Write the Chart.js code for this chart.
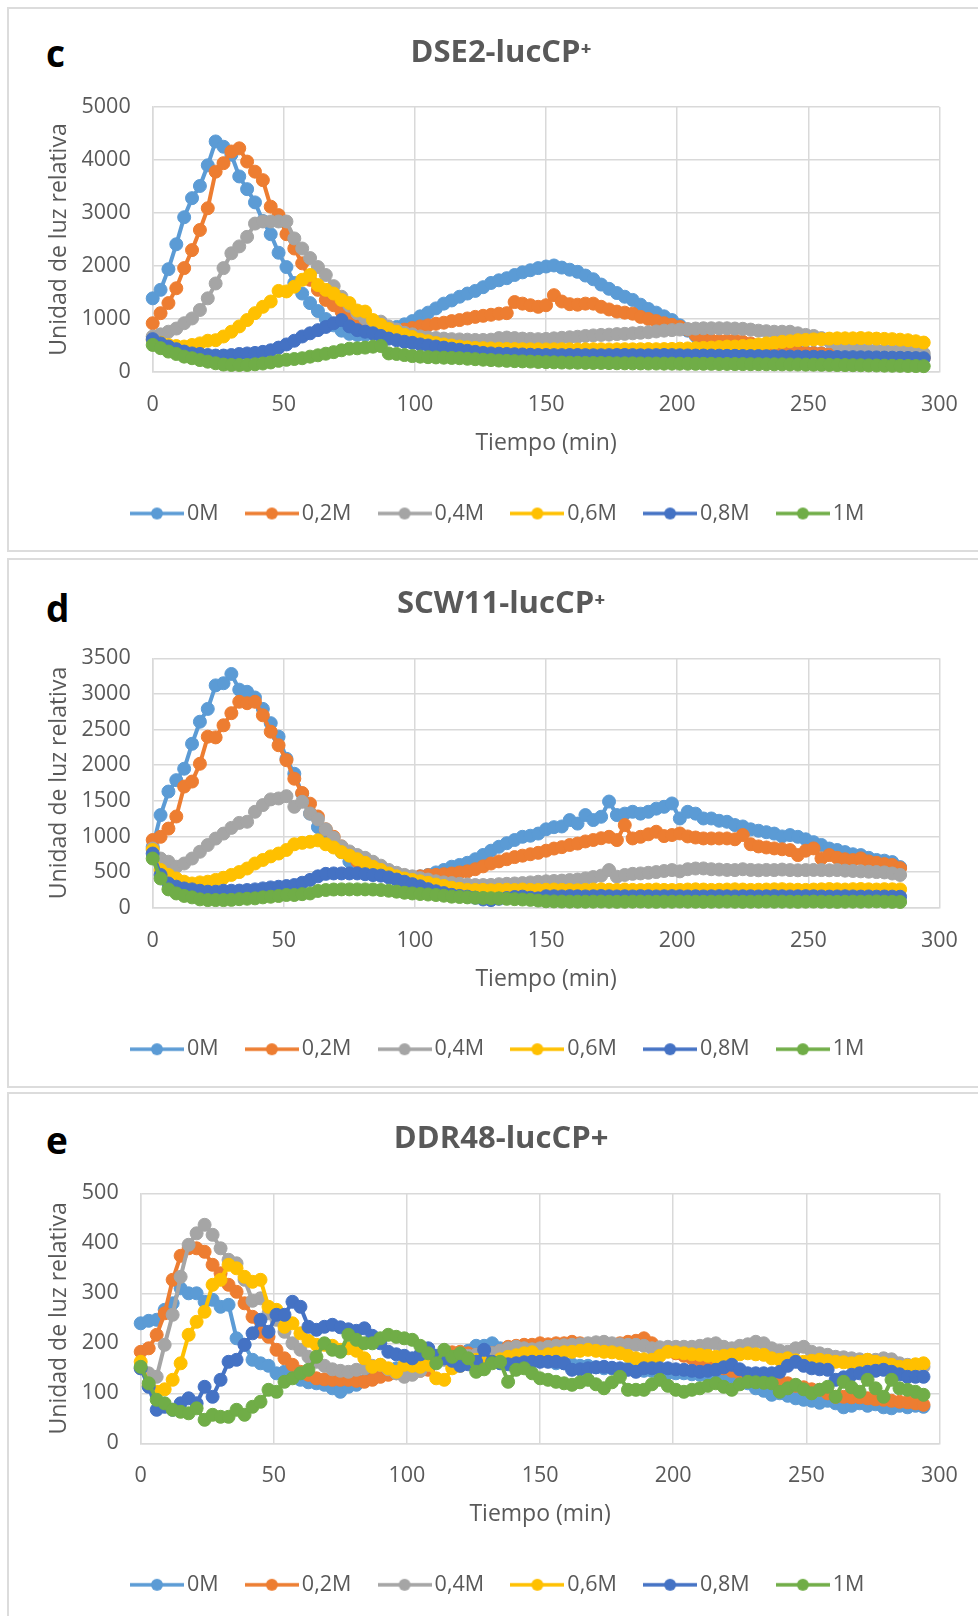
<!DOCTYPE html>
<html><head><meta charset="utf-8">
<script src="https://cdn.jsdelivr.net/npm/chart.js@4.4.1/dist/chart.umd.min.js"></script>
<style>
html,body{margin:0;padding:0;background:#fff;}
body{width:978px;height:1616px;position:relative;overflow:hidden;font-family:'Open Sans',sans-serif;}
.box{position:absolute;left:7px;width:990px;border:2px solid #DCDCDC;box-sizing:border-box;}
canvas{position:absolute;left:0;}
.letter{position:absolute;left:46px;font-family:'Open Sans',sans-serif;font-weight:bold;font-size:37px;line-height:37px;color:#000;}
</style></head><body>
<div class="box" style="top:7px;height:545px"></div>
<div class="box" style="top:558px;height:530px"></div>
<div class="box" style="top:1092px;height:600px"></div>
<div class="letter" style="top:34px">c</div>
<div class="letter" style="top:589px">d</div>
<div class="letter" style="top:1121px">e</div>
<canvas id="cc" width="978" height="543" style="top:8px"></canvas>
<canvas id="cd" width="978" height="529" style="top:559px"></canvas>
<canvas id="ce" width="978" height="523" style="top:1093px"></canvas>
<script>
// ---------- DATA ----------
const times = [0,3,6,9,12,15,18,21,24,27,30,33,36,39,42,45,48,51,54,57,60,63,66,69,72,75,78,81,84,87,90,93,96,99,102,105,108,111,114,117,120,123,126,129,132,135,138,141,144,147,150,153,156,159,162,165,168,171,174,177,180,183,186,189,192,195,198,201,204,207,210,213,216,219,222,225,228,231,234,237,240,243,246,249,252,255,258,261,264,267,270,273,276,279,282,285,288,291,294];
const seriesNames = ["0M","0,2M","0,4M","0,6M","0,8M","1M"];
const xTicks = [0,50,100,150,200,250,300];

// DSE2-lucCP+
const dse2Ticks = [0,1000,2000,3000,4000,5000];
const dse2_0M = [1390,1550,1940,2410,2920,3280,3510,3900,4350,4250,
4100,3690,3450,3200,2850,2600,2250,1980,1680,1480,
1300,1150,1000,880,780,720,700,700,720,760,
800,850,900,960,1050,1120,1200,1290,1350,1420,
1480,1530,1600,1680,1730,1770,1830,1880,1920,1960,
1990,2010,1970,1930,1890,1820,1750,1650,1570,1490,
1420,1360,1270,1190,1120,1050,980,880,780,680,
580,520,490,470,462,450,442,430,421,410,
402,390,382,371,360,352,345,341,334,330,
326,320,316,310,306,302,300,296,290];
const dse2_02M = [920,1110,1300,1580,1960,2300,2680,3090,3780,3940,
4160,4220,3970,3780,3620,3120,2960,2600,2330,2050,
1740,1550,1360,1260,1140,1040,950,900,860,830,
800,790,800,830,860,880,910,930,960,980,
1010,1040,1060,1080,1100,1110,1320,1290,1260,1230,
1260,1450,1330,1280,1270,1290,1290,1230,1180,1140,
1120,1100,1040,1000,960,920,890,850,800,700,
640,600,590,595,600,570,540,500,470,440,
420,400,380,360,355,350,340,330,320,300,
290,286,280,276,272,270,266,262,260];
const dse2_04M = [670,710,760,820,920,1010,1170,1390,1670,1960,
2240,2370,2550,2800,2840,2840,2840,2840,2520,2330,
2150,1980,1830,1620,1420,1250,1110,1010,960,950,
860,800,740,710,670,650,640,630,620,615,
610,605,605,610,640,650,640,630,625,620,
625,635,645,655,665,680,690,700,705,715,
720,730,740,750,765,780,790,800,810,820,
825,825,825,825,820,815,800,780,770,760,
760,760,730,700,680,640,580,520,470,440,
420,415,410,405,400,400,390,370,350];
const dse2_06M = [600,550,510,490,480,510,540,590,600,670,
760,860,980,1110,1230,1330,1530,1520,1610,1740,
1830,1640,1550,1480,1360,1300,1160,1140,980,890,
810,760,700,660,610,580,545,520,500,480,
465,455,450,445,440,435,432,430,428,428,
426,428,430,428,425,428,430,428,426,428,
430,428,430,432,430,432,435,440,445,450,
455,460,470,480,480,490,500,520,540,550,
570,580,600,605,615,620,630,635,635,635,
640,635,630,625,620,610,600,580,555];
const dse2_08M = [620,540,480,430,385,350,340,320,310,310,
320,340,350,360,380,410,460,520,590,670,
730,790,850,920,980,860,790,760,730,680,
630,600,570,550,520,500,480,460,440,420,
400,380,360,350,345,340,335,330,325,320,
320,318,318,320,320,318,315,315,318,320,
320,318,315,315,318,320,318,315,312,310,
310,310,308,305,305,302,300,300,298,295,
295,292,290,290,288,285,285,282,280,280,
278,276,275,272,270,268,265,262,260];
const dse2_1M = [510,450,385,340,290,260,225,195,165,140,
132,132,132,145,160,180,210,230,245,260,
290,315,345,375,410,440,447,460,478,490,
350,340,320,300,290,280,275,270,265,260,
250,242,232,225,216,210,205,200,196,190,
186,182,178,176,175,172,170,170,168,165,
164,163,162,160,160,158,158,157,156,155,
155,154,151,152,150,149,148,148,146,145,
144,142,141,139,138,135,134,131,130,128,
127,124,123,120,118,117,114,112,110];

// SCW11-lucCP+
const scw11Ticks = [0,500,1000,1500,2000,2500,3000,3500];
const scw11_0M = [855,1300,1630,1790,1950,2300,2610,2790,3120,3150,
3280,3060,3030,2950,2790,2590,2400,2090,1880,1600,
1320,1130,1020,900,780,650,570,520,490,465,
450,435,425,425,440,460,495,530,575,600,
630,680,740,800,855,905,950,995,1010,1040,
1100,1130,1140,1230,1180,1300,1230,1276,1490,1300,
1320,1346,1320,1346,1390,1416,1463,1252,1346,1320,
1252,1252,1220,1206,1160,1140,1100,1080,1060,1040,
1000,1019,995,960,920,880,830,810,780,750,
738,700,670,660,640,570];
const scw11_02M = [950,995,1110,1280,1700,1770,2020,2400,2390,2560,
2730,2890,2870,2890,2700,2470,2280,2070,1810,1610,
1460,1280,1100,995,860,750,650,590,530,500,
480,465,450,430,440,455,460,470,480,495,
510,540,580,620,650,680,710,730,750,770,
800,830,850,880,900,930,950,975,995,949,
1159,972,995,1030,1066,1005,1020,1042,1000,985,
972,972,972,972,960,1019,890,860,845,832,
820,808,738,800,832,692,738,700,680,668,
692,650,630,612,600,555];
const scw11_04M = [830,690,645,575,620,690,785,880,970,1040,
1120,1190,1206,1346,1440,1520,1533,1565,1416,1486,
1322,1240,1100,980,860,790,740,700,645,590,
530,490,460,440,415,395,370,355,345,335,
325,318,318,320,330,335,340,345,355,364,
370,375,380,388,395,410,430,450,528,435,
460,475,481,490,500,515,528,510,540,550,
551,540,535,530,528,540,530,525,530,528,
535,528,525,528,530,528,525,528,520,515,
510,505,500,495,480,460];
const scw11_06M = [810,530,460,410,365,340,355,365,390,420,
460,500,550,620,670,720,760,810,890,910,
925,945,890,845,780,730,680,630,575,530,
480,440,410,390,370,350,325,305,280,265,
250,248,250,245,250,252,248,255,250,248,
252,255,250,248,245,250,255,258,252,250,
255,250,248,252,255,250,248,250,255,258,
255,250,252,255,258,255,250,252,255,258,
260,255,252,250,255,258,262,258,255,260,
262,258,255,260,258,257];
const scw11_08M = [760,460,340,295,270,257,238,224,224,238,
238,240,248,257,271,285,294,304,318,350,
390,440,475,481,481,481,481,470,458,450,
425,395,364,330,300,260,230,205,180,165,
155,140,115,107,125,135,150,155,140,131,
160,160,158,162,160,158,160,163,160,158,
160,158,162,160,158,160,162,160,158,160,
158,160,162,160,158,160,160,158,160,162,
160,158,160,162,160,158,156,158,160,158,
156,158,155,157,155,154];
const scw11_1M = [690,410,257,200,165,145,117,107,107,107,
110,120,126,131,145,154,164,178,178,190,
200,235,248,255,257,257,257,257,255,248,
238,225,210,200,192,185,178,168,155,150,
145,140,137,133,131,125,120,115,110,100,
90,88,86,85,85,84,85,86,84,83,
84,85,86,84,83,85,84,86,85,84,
83,84,85,86,84,83,84,85,86,84,
85,84,83,85,86,84,83,82,84,85,
84,86,88,84,82,80];

// DDR48-lucCP+
const ddr48Ticks = [0,100,200,300,400,500];
const ddr48_0M = [240,245,247,267,280,310,300,300,283,287,
273,277,210,197,167,160,155,140,143,133,
127,122,120,117,110,103,113,117,125,133,
140,145,150,150,155,160,160,165,170,175,
180,185,195,195,200,190,185,180,175,170,
165,165,160,160,158,155,155,152,150,150,
148,150,147,145,145,143,140,140,140,138,
137,135,135,133,133,125,120,110,105,97,
100,95,90,87,85,81,85,80,72,75,
80,75,78,72,70,75,72,75,73];
const ddr48_02M = [183,190,217,260,327,375,390,390,383,357,
340,317,303,280,253,223,213,187,170,157,
143,137,130,128,127,127,127,125,123,127,
133,137,140,142,143,145,147,165,180,182,
183,180,177,178,180,185,193,195,197,197,
200,198,200,200,203,200,198,195,193,195,
200,203,205,210,200,190,185,180,175,170,
165,160,155,150,145,140,135,130,128,127,
125,120,115,112,108,107,100,93,93,92,
92,90,88,87,85,83,82,80,77];
const ddr48_04M = [150,140,133,197,257,333,397,420,437,417,
390,367,360,327,285,290,260,247,223,200,
187,173,163,155,148,145,143,147,150,155,
157,148,140,133,137,145,157,162,167,170,
173,175,177,178,180,185,190,193,190,188,
190,193,195,196,197,198,200,202,203,200,
198,197,197,195,190,192,193,193,193,193,
195,198,200,193,190,195,198,203,200,190,
185,183,190,193,183,180,177,173,172,170,
168,167,167,170,168,160,157,155,153];
const ddr48_06M = [163,115,103,108,127,160,217,243,263,317,
327,357,350,333,323,327,273,267,233,240,
220,205,197,197,195,187,190,185,170,153,
157,150,143,157,155,153,157,130,127,150,
155,160,167,165,163,168,173,176,180,182,
173,178,180,182,183,185,187,185,183,182,
180,175,170,168,167,175,183,182,180,178,
177,175,173,175,177,178,180,178,177,170,
167,170,166,163,165,167,165,163,162,160,
163,167,163,160,157,153,155,158,160];
const ddr48_08M = [150,113,67,73,67,80,90,80,113,93,
127,163,167,197,220,247,223,257,257,283,
273,233,227,233,237,232,228,225,230,215,
200,183,178,175,170,178,190,175,170,165,
155,158,163,187,163,160,158,160,162,163,
163,163,163,160,147,148,150,152,153,151,
150,147,143,150,150,150,150,148,147,145,
143,145,147,152,157,148,140,140,140,140,
143,155,163,155,150,148,147,127,132,137,
140,143,145,147,143,138,133,133,133];
const ddr48_1M = [153,120,87,80,67,63,60,70,47,57,
53,53,67,57,73,83,107,103,123,130,
140,147,173,200,187,183,217,207,200,200,
210,217,213,210,207,195,180,160,187,173,
180,170,143,148,160,163,123,147,150,140,
130,127,123,120,117,122,127,118,110,122,
133,107,107,107,118,127,115,107,103,107,
110,115,120,113,107,118,123,122,121,120,
103,110,117,108,100,107,113,93,123,112,
103,127,110,93,127,110,107,103,97];

// ---------- STYLE ----------
const colors = ["#5B9BD5","#ED7D31","#A5A5A5","#FFC000","#4472C4","#70AD47"];
const gray = "#595959";
const gridColor = "#D9D9D9";
Chart.defaults.font.family = "'Open Sans', sans-serif";

const markers = colors.map(c => {
  const cv = document.createElement('canvas');
  cv.width = 54; cv.height = 16;
  const g = cv.getContext('2d');
  g.strokeStyle = c; g.lineWidth = 3.3;
  g.beginPath(); g.moveTo(0, 8); g.lineTo(54, 8); g.stroke();
  g.fillStyle = c; g.beginPath(); g.arc(27, 8, 6, 0, Math.PI * 2); g.fill();
  return cv;
});

const TITLE_SIZE = 31;
function build(id, titleText, seriesList, yTicks, lay) {
  const padL = 59.2, padR = 35;
  const yW = lay.plotLeft - padL;
  const lh = TITLE_SIZE * 1.2;
  const tpBot = 54 - lh / 2;
  const padT = lay.PT - lay.ct - tpBot - lh;
  const padB = lay.ct + lay.H - lay.PB - 162.25;
  const datasets = seriesList.map((vals, i) => ({
    label: seriesNames[i],
    data: vals.map((v, k) => ({x: times[k], y: v})),
    borderColor: colors[i],
    backgroundColor: colors[i],
    borderWidth: 4,
    pointRadius: 6.5,
    pointBorderWidth: 1,
    pointHoverRadius: 6.5,
    tension: 0,
    clip: false,
    order: 5 - i
  }));
  new Chart(document.getElementById(id), {
    type: 'line',
    data: {datasets},
    options: {
      responsive: false,
      animation: false,
      events: [],
      layout: {padding: {left: padL, right: padR, top: padT, bottom: padB}},
      plugins: {
        title: {display: true, text: titleText, color: gray,
          font: {size: TITLE_SIZE, weight: 'bold'}, padding: {top: 0, bottom: tpBot}},
        legend: {position: 'bottom',
          labels: {usePointStyle: true, pointStyleWidth: 38.5, padding: 34, color: gray,
            font: {size: 21.5},
            generateLabels: (chart) => chart.data.datasets.map((ds, i) => ({
              text: ds.label, pointStyle: markers[i], fillStyle: ds.borderColor,
              strokeStyle: ds.borderColor, lineWidth: 0, hidden: false, datasetIndex: i, fontColor: gray
            }))}},
        tooltip: {enabled: false}
      },
      scales: {
        x: {type: 'linear', min: xTicks[0], max: xTicks[xTicks.length - 1],
          afterFit: (s) => { s.height = 96.75; },
          ticks: {stepSize: xTicks[1] - xTicks[0], color: gray, font: {size: 21.5}, padding: 20.1, maxRotation: 0},
          grid: {color: gridColor, lineWidth: 1.5, drawTicks: false},
          border: {color: gridColor, width: 1.5},
          title: {display: true, text: 'Tiempo (min)', color: gray, font: {size: 23}, padding: {top: 0, bottom: 11.45}}
        },
        y: {min: yTicks[0], max: yTicks[yTicks.length - 1],
          afterFit: (s) => { s.width = yW; },
          ticks: {stepSize: yTicks[1] - yTicks[0], color: gray, font: {size: 21.5}, padding: 22,
            callback: (v) => String(v)},
          grid: {color: gridColor, lineWidth: 1.5, drawTicks: false},
          border: {color: gridColor, width: 1.5},
          title: {display: true, text: 'Unidad de luz relativa', color: gray, font: {size: 23}, padding: {top: -14, bottom: 0}}
        }
      }
    }
  });
}

build('cc', 'DSE2-lucCP\u207A',
  [dse2_0M, dse2_02M, dse2_04M, dse2_06M, dse2_08M, dse2_1M], dse2Ticks,
  {ct: 8, H: 543, PT: 107, PB: 372, plotLeft: 152.7});
build('cd', 'SCW11-lucCP\u207A',
  [scw11_0M, scw11_02M, scw11_04M, scw11_06M, scw11_08M, scw11_1M], scw11Ticks,
  {ct: 559, H: 529, PT: 658.3, PB: 907.7, plotLeft: 152.7});
build('ce', 'DDR48-lucCP+',
  [ddr48_0M, ddr48_02M, ddr48_04M, ddr48_06M, ddr48_08M, ddr48_1M], ddr48Ticks,
  {ct: 1093, H: 523, PT: 1193.3, PB: 1443.3, plotLeft: 140.7});
</script>
</body></html>
